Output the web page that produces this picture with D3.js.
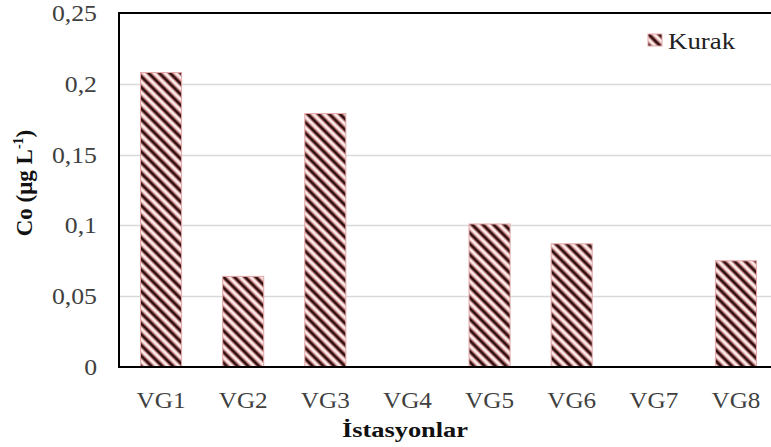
<!DOCTYPE html>
<html><head><meta charset="utf-8">
<script src="https://cdn.jsdelivr.net/npm/d3@7"></script>
<style>body{margin:0;background:#fff}svg{display:block}</style>
</head><body><svg id="c" width="771" height="447"></svg>
<script>
const categories = ["VG1","VG2","VG3","VG4","VG5","VG6","VG7","VG8"];
const kurak = [0.208,0.064,0.179,0,0.101,0.087,0,0.075];
const yTicks = [0,0.05,0.1,0.15,0.2,0.25];
const yTickLabels = ["0","0,05","0,1","0,15","0,2","0,25"];
const seriesName = "Kurak";
const xTitle = "İstasyonlar";

const FF = '"Liberation Serif"';
const svg = d3.select("#c");
const L = 119, R = 777, T = 13, B = 367;
const x = d3.scaleBand().domain(categories).range([L+1, R]).paddingInner(0.5).paddingOuter(0.25);
const y = d3.scaleLinear().domain([0,0.25]).range([B,T]);

const defs = svg.append("defs");
const g = defs.append("linearGradient").attr("id","sg").attr("x1","0").attr("x2","1").attr("y1","0").attr("y2","0");
[[0,"#000"],[0.15,"#5a1f1f"],[0.33,"#e2a9a9"],[0.55,"#ffffff"],[0.75,"#e6b0b0"],[0.88,"#6b2a2a"],[1,"#000"]]
  .forEach(([o,c])=>g.append("stop").attr("offset",o).attr("stop-color",c));
const pat = defs.append("pattern").attr("id","stripes").attr("patternUnits","userSpaceOnUse")
  .attr("width",7.6).attr("height",20).attr("patternTransform","rotate(-45)");
pat.append("rect").attr("width",7.6).attr("height",20).attr("fill","url(#sg)");

// gridlines
svg.append("g").selectAll("line").data(yTicks.filter(d=>d>0&&d<0.25)).join("line")
  .attr("x1",L).attr("x2",771).attr("y1",d=>Math.round(y(d))+0.5).attr("y2",d=>Math.round(y(d))+0.5)
  .attr("stroke","#d9d9d9").attr("stroke-width",1.5);

// y labels
svg.append("g").selectAll("text").data(yTicks).join("text")
  .attr("transform",d=>`translate(97,${y(d)}) scale(1.12,1)`)
  .attr("text-anchor","end").attr("dy","0.35em")
  .style("font-family",FF).attr("font-size",23).attr("fill","#404040")
  .text((d,i)=>yTickLabels[i]);

// bars
const barData = kurak.map((v,i)=>({c:categories[i],v})).filter(d=>d.v>0);
svg.append("g").selectAll("rect").data(barData).join("rect")
  .attr("x",d=>x(d.c)).attr("width",x.bandwidth())
  .attr("y",d=>y(d.v)).attr("height",d=>y(0)-y(d.v))
  .attr("fill","url(#stripes)").attr("stroke","#e3a8a8").attr("stroke-width",1);

// frame
svg.append("rect").attr("x",L).attr("y",T).attr("width",R-L).attr("height",B-T)
  .attr("fill","none").attr("stroke","#000").attr("stroke-width",2);

// x labels
svg.append("g").selectAll("text").data(categories).join("text")
  .attr("transform",d=>`translate(${x(d)+x.bandwidth()/2},408) scale(1.05,1)`)
  .attr("text-anchor","middle")
  .style("font-family",FF).attr("font-size",24).attr("fill","#404040")
  .text(d=>d);

// titles
svg.append("text").attr("transform","translate(405,437) scale(1.2,1)").attr("text-anchor","middle")
  .style("font-family",FF).attr("font-size",22).attr("font-weight","bold").attr("fill","#111").text(xTitle);
const yt = svg.append("text").attr("transform","translate(32,183) rotate(-90)").attr("text-anchor","middle")
  .style("font-family",FF).attr("font-size",23).attr("font-weight","bold").attr("fill","#111");
yt.append("tspan").text("Co (μg L");
yt.append("tspan").attr("dy",-9).attr("font-size",14).text("-1");
yt.append("tspan").attr("dy",9).text(")");

// legend
const lg = svg.append("g").attr("transform","translate(648,34)");
lg.append("rect").attr("width",14).attr("height",12).attr("fill","url(#stripes)").attr("stroke","#e3a8a8");
lg.append("text").attr("transform","translate(20,15) scale(1.12,1)")
  .style("font-family",FF).attr("font-size",24).attr("fill","#222").text(seriesName);
</script></body></html>
